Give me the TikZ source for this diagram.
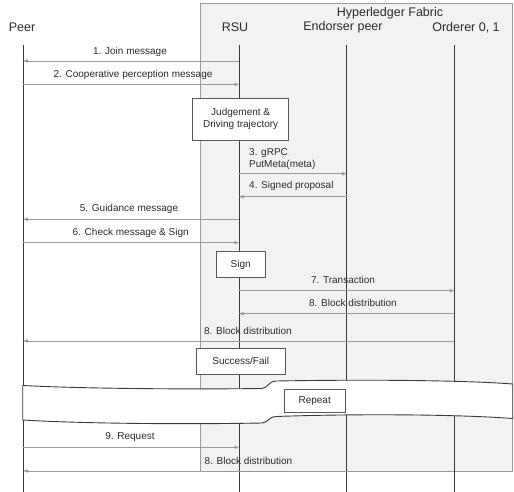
\documentclass[tikz,border=0pt]{standalone}
\usepackage{fontspec}
\setmainfont{Liberation Sans}
\usetikzlibrary{arrows.meta}
\definecolor{boxfill}{HTML}{F2F2F2}
\definecolor{boxedge}{HTML}{9A9A9A}
\definecolor{lifecol}{HTML}{3A3A3A}
\definecolor{msgcol}{HTML}{9A9A9A}
\definecolor{txtcol}{HTML}{2A2A2A}
\tikzset{
  header/.style={font=\fontsize{12.5}{14}\selectfont, text=txtcol, inner sep=0pt},
  msglabel/.style={font=\fontsize{10}{11.5}\selectfont, text=txtcol, inner sep=0pt},
  lifeline/.style={draw=lifecol, line width=0.9pt},
  msg/.style={draw=msgcol, line width=0.9pt, -{Triangle[length=4.5pt,width=3.2pt]}},
  actbox/.style={draw=lifecol!85, fill=white, line width=0.9pt, font=\fontsize{10}{12}\selectfont, text=txtcol, align=center, inner sep=0pt}
}
\begin{document}
\begin{tikzpicture}[x=1pt,y=-1pt]
\useasboundingbox (0,0) rectangle (514,492);
% Hyperledger Fabric region
\draw[fill=boxfill, draw=boxedge, line width=0.9pt] (200,3.3) rectangle (512.7,471);
\node[header] (hf) at (390,13) {Hyperledger Fabric};
% headers
\node[header] (peer) at (22,27.6) {Peer};
\node[header] (rsu) at (235,27.6) {RSU};
\node[header] (end) at (343,27.6) {Endorser peer};
\node[header] (ord) at (466,27.6) {Orderer 0, 1};
% lifeline end points
\coordinate (pT) at (23.3,45); \coordinate (pB) at (23.3,492);
\coordinate (rT) at (239,45);  \coordinate (rB) at (239,492);
\coordinate (eT) at (346.7,45); \coordinate (eB) at (346.7,492);
\coordinate (oT) at (454.3,45); \coordinate (oB) at (454.3,492);
\draw[lifeline] (pT) -- (pB);
\draw[lifeline] (rT) -- (rB);
\draw[lifeline] (eT) -- (eB);
\draw[lifeline] (oT) -- (oB);
% Repeat band
\path[fill=white, draw=lifecol, line width=0.9pt]
  (22.7,385.5) .. controls (80,388.5) and (180,389.5) .. (262,388.5)
  .. controls (268,388) and (268,381.5) .. (276,381)
  .. controls (360,379.5) and (460,380) .. (512.7,384)
  -- (512.7,418.5)
  .. controls (460,414.5) and (360,413.5) .. (276,416.5)
  .. controls (268,417) and (268,423) .. (262,423)
  .. controls (180,424.5) and (80,423.5) .. (22.7,420) -- cycle;
\node[actbox, minimum width=60.7pt, minimum height=23.4pt] (rep) at (314.7,401) {Repeat};
% message anchor coordinates
\coordinate (r1) at (239,61);    \coordinate (p1) at (23.3,61);
\coordinate (p2) at (23.3,84.3); \coordinate (r2) at (239,84.3);
\coordinate (r3) at (239,173.7); \coordinate (e3) at (346.7,173.7);
\coordinate (e4) at (346.7,196.7); \coordinate (r4) at (239,196.7);
\coordinate (r5) at (239,219.3); \coordinate (p5) at (23.3,219.3);
\coordinate (p6) at (23.3,242.7); \coordinate (r6) at (239,242.7);
\coordinate (r7) at (239,290.7); \coordinate (o7) at (454.3,290.7);
\coordinate (o8) at (454.3,313.7); \coordinate (r8) at (239,313.7);
\coordinate (o9) at (454.3,341); \coordinate (p9) at (23.3,341);
\coordinate (p10) at (23.3,447.3); \coordinate (r10) at (239,447.3);
\coordinate (o11) at (454.3,471); \coordinate (p11) at (23.3,471);
% messages
\draw[msg] (r1) -- (p1);
\node[msglabel] (l1) at (130,52) {1. Join message};
\draw[msg] (p2) -- (r2);
\node[msglabel] (l2) at (133,75) {2. Cooperative perception message};
\node[actbox, minimum width=96pt, minimum height=41.7pt] (judge) at (240.7,119.2) {Judgement \&\\Driving trajectory};
\draw[msg] (r3) -- (e3);
\node[msglabel, anchor=west, align=left] (l3) at (249,159.2) {3. gRPC\\PutMeta(meta)};
\draw[msg] (e4) -- (r4);
\node[msglabel, anchor=west] (l4) at (249,185.7) {4. Signed proposal};
\draw[msg] (r5) -- (p5);
\node[msglabel] (l5) at (129,209.3) {5. Guidance message};
\draw[msg] (p6) -- (r6);
\node[msglabel] (l6) at (130.7,232.7) {6. Check message \& Sign};
\node[actbox, minimum width=49.3pt, minimum height=25.6pt] (sign) at (240.7,264.5) {Sign};
\draw[msg] (r7) -- (o7);
\node[msglabel] (l7) at (343,280) {7. Transaction};
\draw[msg] (o8) -- (r8);
\node[msglabel] (l8) at (353,302.7) {8. Block distribution};
\draw[msg] (o9) -- (p9);
\node[msglabel] (l9) at (248,331) {8. Block distribution};
\node[actbox, minimum width=88.7pt, minimum height=26pt] (sf) at (240.7,361.3) {Success/Fail};
\draw[msg] (p10) -- (r10);
\node[msglabel] (l10) at (130,437.3) {9. Request};
\draw[msg] (o11) -- (p11);
\node[msglabel] (l11) at (248.5,460.7) {8. Block distribution};
\end{tikzpicture}
\end{document}
